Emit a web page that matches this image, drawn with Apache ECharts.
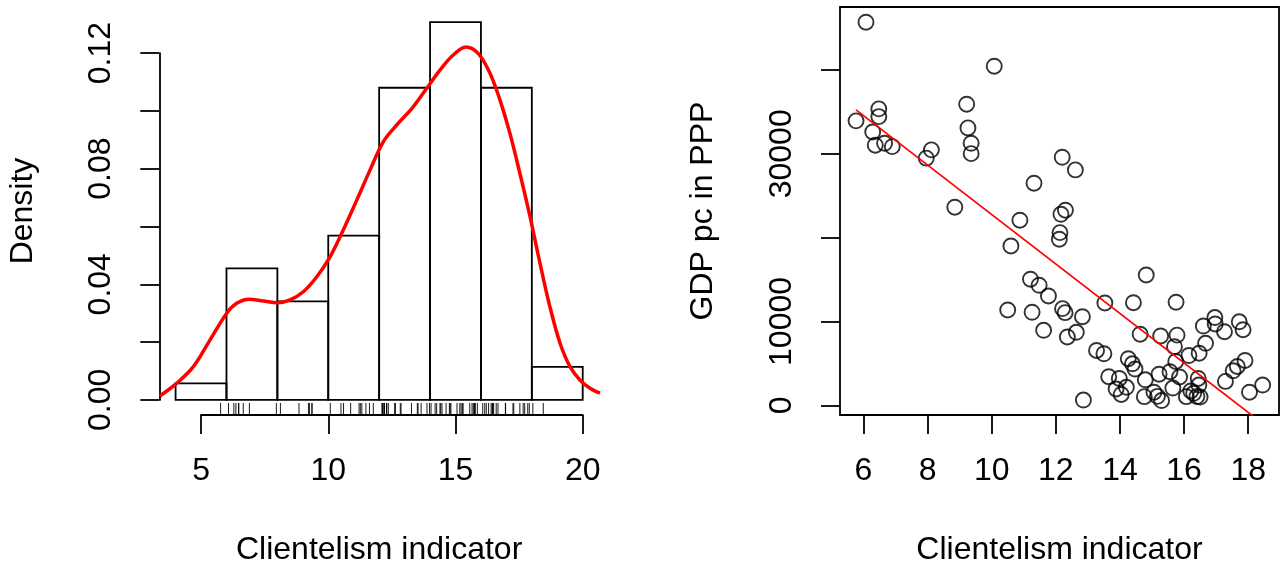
<!DOCTYPE html>
<html>
<head>
<meta charset="utf-8">
<script src="https://cdn.jsdelivr.net/npm/echarts@6/dist/echarts.min.js"></script>
<style>
  html, body { margin: 0; padding: 0; background: #fff; }
  #chart { width: 1283px; height: 567px; }
</style>
</head>
<body>
<div id="chart"></div>
<script>
// Histogram of the clientelism indicator (density scale)
const binEdges = [4, 6, 8, 10, 12, 14, 16, 18, 20];
const binDensity = [0.0057, 0.0455, 0.0341, 0.0568, 0.1080, 0.1307, 0.1080, 0.0114];

// Kernel density estimate drawn over the histogram
const densityX = [3.39, 4.05, 4.70, 5.35, 6.01, 6.40, 6.89, 7.45, 8.01, 8.50, 9.02, 9.55,
  10.07, 10.59, 11.12, 11.64, 12.16, 12.69, 13.34, 13.87, 14.39, 14.91, 15.41, 15.90,
  16.36, 16.75, 17.14, 17.53, 17.93, 18.32, 18.71, 19.11, 19.50, 19.89, 20.29, 20.68];
const densityY = [0.0014, 0.0058, 0.0115, 0.0207, 0.0300, 0.0334, 0.0348, 0.0342, 0.0336, 0.0346, 0.0374, 0.0426,
  0.0495, 0.0588, 0.0691, 0.0795, 0.0893, 0.0951, 0.1014, 0.1078, 0.1141, 0.1193, 0.1221, 0.1198,
  0.1129, 0.1037, 0.0922, 0.0784, 0.0634, 0.0473, 0.0322, 0.0196, 0.0115, 0.0069, 0.0040, 0.0023];

// Clientelism indicator per country (also drawn as the rug) and GDP per capita in PPP
const clientelism = [6.08, 10.08, 6.48, 6.48, 5.77, 6.29, 6.37, 6.66, 6.90, 8.12, 7.96, 9.22, 9.26, 9.36, 9.36,
  8.85, 11.32, 10.88, 10.60, 10.50, 11.21, 11.48, 11.77, 11.26, 11.62, 12.20, 12.61, 12.16, 12.30, 12.13,
  12.11, 12.21, 12.29, 12.83, 12.64, 12.36, 12.86, 13.27, 13.53, 13.50, 13.65, 13.98, 14.20, 13.88, 14.04,
  14.26, 14.39, 14.47, 14.42, 14.82, 14.63, 14.79, 14.76, 15.06, 15.17, 15.30, 15.22, 15.27, 15.56, 15.65,
  15.86, 15.74, 15.70, 15.78, 15.75, 16.15, 16.47, 16.67, 16.60, 16.96, 16.97, 17.26, 17.72, 17.84, 17.90,
  17.66, 17.53, 17.29, 18.04, 18.45, 16.07, 16.30, 16.40, 16.50, 16.44, 16.46, 16.21];
const gdpPPP = [45700, 40450, 35360, 34440, 33930, 32610, 31030, 31260, 30860, 30470, 29480, 35920, 33090, 31260, 30020,
  23630, 26490, 22080, 19010, 11370, 15040, 14320, 13040, 11100, 8950, 29590, 28080, 22790, 23270, 20600,
  19810, 11530, 11050, 10570, 8710, 8150, 630, 6540, 12210, 6150, 3410, 3200, 2150, 1950, 1290,
  5560, 4950, 4330, 12240, 15550, 8480, 3040, 1030, 1560, 1070, 570, 3710, 8270, 4010, 2060,
  3380, 5230, 6990, 8370, 12300, 5940, 6210, 7400, 9460, 10470, 9700, 8780, 9960, 9020, 5350,
  4630, 4120, 2850, 1560, 2420, 1030, 1430, 1050, 990, 3200, 2420, 1710];

// Least-squares fit of GDP on clientelism
const fitIntercept = 52270;
const fitSlope = -2951;

// Axis ticks and labels
const histXTicks = [5, 10, 15, 20];
const histYTicks = [0, 0.02, 0.04, 0.06, 0.08, 0.10, 0.12];
const histYLabels = [0, 0.04, 0.08, 0.12];
const scatXTicks = [6, 8, 10, 12, 14, 16, 18];
const scatYTicks = [0, 10000, 20000, 30000, 40000];
const scatYLabels = [0, 10000, 30000];

const FONT = '"Liberation Sans", Arial, Helvetica, sans-serif';
const FS = 32;
const INK = '#000';
const LW = 1.8;

// plot regions (pixels) and their data limits
const histBox = { left: 159.3, top: 7, width: 439.7, height: 408 };
const histLim = { x: [3.36, 20.64], y: [-0.00523, 0.13593] };
const scatBox = { left: 840, top: 7, width: 439, height: 408 };
const scatLim = { x: [5.27, 18.96], y: [-1157, 47513] };

const px = v => histBox.left + (v - histLim.x[0]) / (histLim.x[1] - histLim.x[0]) * histBox.width;
const py = v => histBox.top + (histLim.y[1] - v) / (histLim.y[1] - histLim.y[0]) * histBox.height;

const histXFirst = histXTicks[0], histXLast = histXTicks[histXTicks.length - 1];
const histYFirst = histYTicks[0], histYLast = histYTicks[histYTicks.length - 1];

const bins = binDensity.map((d, i) => [binEdges[i], binEdges[i + 1], d]);
const densityPts = densityX.map((x, i) => [x, densityY[i]]);
const scatterPts = clientelism.map((x, i) => [x, gdpPPP[i]]);
const xMinData = Math.min(...clientelism), xMaxData = Math.max(...clientelism);
const fitPts = [[xMinData, fitIntercept + fitSlope * xMinData], [xMaxData, fitIntercept + fitSlope * xMaxData]];

const labelStyle = { color: INK, fontFamily: FONT, fontSize: FS };
const nameStyle = { color: INK, fontFamily: FONT, fontSize: FS };
const hiddenAxis = { axisLine: { show: false, onZero: false }, axisTick: { show: false }, axisLabel: { show: false }, splitLine: { show: false } };
const tickStyle = { color: INK, width: LW };

const chart = echarts.init(document.getElementById('chart'), null, { renderer: 'canvas' });

chart.setOption({
  animation: false,
  backgroundColor: '#fff',
  grid: [
    // 0: histogram plot region
    Object.assign({ outerBoundsMode: 'none' }, histBox),
    // 1: histogram x axis (spans first to last tick)
    { outerBoundsMode: 'none', left: px(histXFirst), width: px(histXLast) - px(histXFirst), top: histBox.top, height: histBox.height },
    // 2: histogram y axis
    { outerBoundsMode: 'none', left: histBox.left, width: histBox.width, top: py(histYLast), height: py(histYFirst) - py(histYLast) },
    // 3: scatter plot region, boxed
    Object.assign({ outerBoundsMode: 'none', show: true, borderColor: INK, borderWidth: LW, backgroundColor: 'transparent' }, scatBox)
  ],
  xAxis: [
    Object.assign({ gridIndex: 0, type: 'value', min: histLim.x[0], max: histLim.x[1],
      name: 'Clientelism indicator', nameLocation: 'middle', nameGap: 119, nameTextStyle: nameStyle }, hiddenAxis),
    { gridIndex: 1, type: 'value', min: histXFirst, max: histXLast, interval: 5,
      axisLine: { show: true, onZero: false, lineStyle: tickStyle },
      axisTick: { show: true, length: 19, lineStyle: tickStyle },
      axisLabel: Object.assign({ margin: 40, formatter: v => String(v) }, labelStyle),
      splitLine: { show: false } },
    Object.assign({ gridIndex: 2, type: 'value', min: histLim.x[0], max: histLim.x[1] }, hiddenAxis),
    { gridIndex: 3, type: 'value', min: scatLim.x[0], max: scatLim.x[1],
      name: 'Clientelism indicator', nameLocation: 'middle', nameGap: 119, nameTextStyle: nameStyle,
      axisLine: { show: false, onZero: false },
      axisTick: { show: true, length: 19, customValues: scatXTicks, lineStyle: tickStyle },
      axisLabel: Object.assign({ margin: 40, customValues: scatXTicks, formatter: v => String(v) }, labelStyle),
      splitLine: { show: false } }
  ],
  yAxis: [
    Object.assign({ gridIndex: 0, type: 'value', min: histLim.y[0], max: histLim.y[1],
      name: 'Density', nameLocation: 'middle', nameGap: 120, nameRotate: 90, nameTextStyle: nameStyle }, hiddenAxis),
    Object.assign({ gridIndex: 1, type: 'value', min: histLim.y[0], max: histLim.y[1] }, hiddenAxis),
    { gridIndex: 2, type: 'value', min: histYFirst, max: histYLast,
      axisLine: { show: true, onZero: false, lineStyle: tickStyle },
      axisTick: { show: true, length: 19, customValues: histYTicks, lineStyle: tickStyle },
      axisLabel: Object.assign({ margin: 42, rotate: 90, customValues: histYLabels, formatter: v => v.toFixed(2) }, labelStyle),
      splitLine: { show: false } },
    { gridIndex: 3, type: 'value', min: scatLim.y[0], max: scatLim.y[1],
      name: 'GDP pc in PPP', nameLocation: 'middle', nameGap: 121, nameRotate: 90, nameTextStyle: nameStyle,
      axisLine: { show: false, onZero: false },
      axisTick: { show: true, length: 19, customValues: scatYTicks, lineStyle: tickStyle },
      axisLabel: Object.assign({ margin: 42, rotate: 90, customValues: scatYLabels, formatter: v => String(v) }, labelStyle),
      splitLine: { show: false } }
  ],
  series: [
    {
      type: 'custom', xAxisIndex: 0, yAxisIndex: 0, data: bins,
      encode: { x: [0, 1], y: 2 },
      renderItem: (params, api) => {
        const p0 = api.coord([api.value(0), 0]);
        const p1 = api.coord([api.value(1), api.value(2)]);
        return { type: 'rect',
          shape: { x: p0[0], y: p1[1], width: p1[0] - p0[0], height: p0[1] - p1[1] },
          style: { fill: 'none', stroke: INK, lineWidth: LW } };
      }
    },
    {
      type: 'custom', xAxisIndex: 0, yAxisIndex: 0, data: clientelism.map(v => [v]),
      encode: { x: 0 },
      renderItem: (params, api) => {
        const p = api.coord([api.value(0), 0]);
        const cs = params.coordSys;
        const bottom = cs.y + cs.height;
        return { type: 'line',
          shape: { x1: p[0], y1: bottom - 12, x2: p[0], y2: bottom },
          style: { stroke: INK, lineWidth: 0.9 } };
      }
    },
    {
      type: 'line', xAxisIndex: 0, yAxisIndex: 0, data: densityPts,
      smooth: 0.35, showSymbol: false, clip: true,
      lineStyle: { color: '#ff0000', width: 3.5 }, z: 5
    },
    {
      type: 'scatter', xAxisIndex: 3, yAxisIndex: 3, data: scatterPts,
      symbol: 'circle', symbolSize: 15,
      itemStyle: { color: 'rgba(0,0,0,0)', borderColor: INK, borderWidth: 1.9 }
    },
    {
      type: 'line', xAxisIndex: 3, yAxisIndex: 3, data: fitPts,
      showSymbol: false, clip: true,
      lineStyle: { color: '#ff0000', width: 1.7 }, z: 5
    }
  ]
});
</script>
</body>
</html>
